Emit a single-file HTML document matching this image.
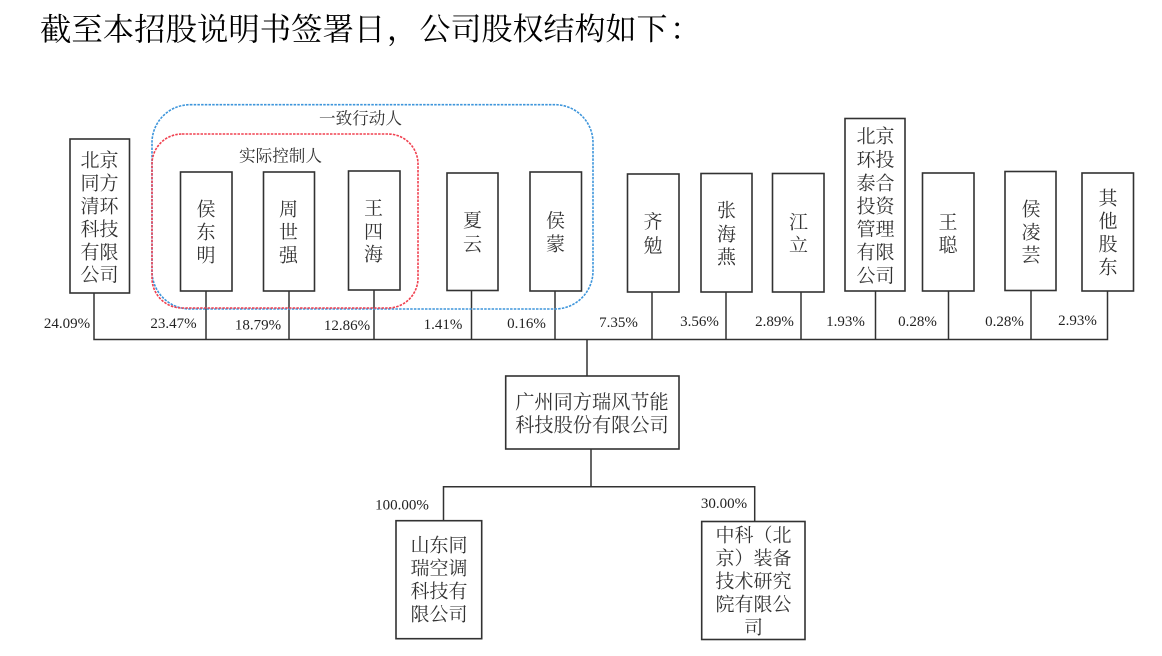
<!DOCTYPE html>
<html lang="zh-CN">
<head>
<meta charset="utf-8">
<title>股权结构</title>
<style>
html,body{margin:0;padding:0;background:#fff;width:1162px;height:656px;overflow:hidden}
svg{display:block}
text{font-family:"Liberation Serif","Noto Serif CJK SC",serif}
.t{font-size:19px;fill:#333;text-anchor:middle;dominant-baseline:central}
.m{font-size:19.2px;fill:#333;text-anchor:middle;dominant-baseline:central}
.l{font-size:16.6px;fill:#333;text-anchor:middle;dominant-baseline:central}
.p{font-size:15px;fill:#222;text-anchor:middle;dominant-baseline:central}
.b{fill:#fff;stroke:#333;stroke-width:1.6}
.c{fill:none;stroke:#333;stroke-width:1.5}
</style>
</head>
<body>
<svg width="1162" height="656" viewBox="0 0 1162 656" xmlns="http://www.w3.org/2000/svg">
<defs><filter id="s" filterUnits="userSpaceOnUse" x="0" y="60" width="1162" height="596"><feGaussianBlur stdDeviation="0.35"/></filter></defs>
<text x="40" y="29.5" font-size="31.4" fill="#000" dominant-baseline="central">截至本招股说明书签署日</text>
<text x="387" y="29.5" font-size="31" fill="#000" dominant-baseline="central">&#xFF0C;</text>
<text x="419.500" y="29.5" font-size="31" fill="#000" dominant-baseline="central">公司股权结构如下</text>
<text x="670" y="29.5" font-size="31" fill="#000" dominant-baseline="central">&#xFF1A;</text>
<g filter="url(#s)">
<path class="c" d="M94 293V339.5H1107.5V291M206 291V339.5M289 291V339.5M374 290V339.5M471.5 290V339.5M555 291V339.5M652 292V339.5M726 292V339.5M801 292V339.5M875.5 291V339.5M948.500 291V339.5M1031 290V339.5M587 339.5V376M591 449V486.700M443.500 520.700V486.700H754.700V521.500"/>
<rect class="b" x="70" y="139" width="59.500" height="154"/>
<rect class="b" x="180.500" y="172" width="51.500" height="119"/>
<rect class="b" x="263.500" y="172" width="51" height="119"/>
<rect class="b" x="348.500" y="171" width="51.500" height="119"/>
<rect class="b" x="447" y="173" width="51" height="117.500"/>
<rect class="b" x="530" y="172" width="51.500" height="119"/>
<rect class="b" x="627.500" y="174" width="51.500" height="118"/>
<rect class="b" x="701" y="173.500" width="51" height="118.500"/>
<rect class="b" x="772.500" y="173.500" width="51.500" height="118.500"/>
<rect class="b" x="845" y="118.500" width="60" height="172.500"/>
<rect class="b" x="922.500" y="173" width="51.500" height="118"/>
<rect class="b" x="1005" y="171.500" width="51" height="119"/>
<rect class="b" x="1082" y="173" width="51.500" height="118"/>
<rect class="b" x="505.700" y="376" width="173.300" height="73"/>
<rect class="b" x="396" y="520.700" width="85.700" height="118"/>
<rect class="b" x="701.700" y="521.500" width="103.300" height="118"/>
<rect x="152" y="104.700" width="441" height="204.300" rx="38" fill="none" stroke="#3d95db" stroke-width="1.600" stroke-dasharray="2.500 1.200"/>
<rect x="152" y="134" width="266" height="174" rx="30" fill="none" stroke="#f0404f" stroke-width="1.600" stroke-dasharray="2.500 1.200"/>
<text class="l" x="360.500" y="118.500">一致行动人</text>
<text class="l" x="280.500" y="156">实际控制人</text>
<text class="t" x="99.500" y="161">北京</text>
<text class="t" x="99.500" y="184">同方</text>
<text class="t" x="99.500" y="207">清环</text>
<text class="t" x="99.500" y="230">科技</text>
<text class="t" x="99.500" y="253">有限</text>
<text class="t" x="99.500" y="275.500">公司</text>
<text class="t" x="206" y="210">侯</text><text class="t" x="206" y="233">东</text><text class="t" x="206" y="256">明</text>
<text class="t" x="288.500" y="210">周</text><text class="t" x="288.500" y="233">世</text><text class="t" x="288.500" y="256">强</text>
<text class="t" x="373.500" y="209">王</text><text class="t" x="373.500" y="232.500">四</text><text class="t" x="373.500" y="255">海</text>
<text class="t" x="472.500" y="221">夏</text><text class="t" x="472.500" y="245">云</text>
<text class="t" x="555.500" y="221.500">侯</text><text class="t" x="555.500" y="245">蒙</text>
<text class="t" x="653" y="222.500">齐</text><text class="t" x="653" y="246.500">勉</text>
<text class="t" x="726.500" y="211">张</text><text class="t" x="726.500" y="235">海</text><text class="t" x="726.500" y="258">燕</text>
<text class="t" x="798.500" y="223">江</text><text class="t" x="798.500" y="246">立</text>
<text class="t" x="875.500" y="137">北京</text>
<text class="t" x="875.500" y="160.500">环投</text>
<text class="t" x="875.500" y="184">泰合</text>
<text class="t" x="875.500" y="207">投资</text>
<text class="t" x="875.500" y="230">管理</text>
<text class="t" x="875.500" y="253">有限</text>
<text class="t" x="875.500" y="276.500">公司</text>
<text class="t" x="948" y="223">王</text><text class="t" x="948" y="246">聪</text>
<text class="t" x="1031" y="210">侯</text><text class="t" x="1031" y="233">凌</text><text class="t" x="1031" y="256">芸</text>
<text class="t" x="1108" y="199">其</text><text class="t" x="1108" y="222">他</text><text class="t" x="1108" y="245">股</text><text class="t" x="1108" y="268">东</text>
<text class="m" x="592" y="403">广州同方瑞风节能</text>
<text class="m" x="592" y="426">科技股份有限公司</text>
<text class="t" x="439" y="546">山东同</text>
<text class="t" x="439" y="569">瑞空调</text>
<text class="t" x="439" y="592">科技有</text>
<text class="t" x="439" y="615">限公司</text>
<text class="t" x="753.500" y="536">中科&#xFF08;北</text>
<text class="t" x="753.500" y="559">京&#xFF09;装备</text>
<text class="t" x="753.500" y="582">技术研究</text>
<text class="t" x="753.500" y="605">院有限公</text>
<text class="t" x="753.500" y="628">司</text>
<text class="p" x="67" y="324">24.09%</text>
<text class="p" x="173.500" y="324">23.47%</text>
<text class="p" x="258" y="325.500">18.79%</text>
<text class="p" x="347" y="326">12.86%</text>
<text class="p" x="443" y="325">1.41%</text>
<text class="p" x="526.500" y="324">0.16%</text>
<text class="p" x="618.500" y="323">7.35%</text>
<text class="p" x="699.500" y="322">3.56%</text>
<text class="p" x="774.500" y="322">2.89%</text>
<text class="p" x="845.500" y="322">1.93%</text>
<text class="p" x="917.500" y="322">0.28%</text>
<text class="p" x="1004.500" y="322">0.28%</text>
<text class="p" x="1077.500" y="321">2.93%</text>
<text class="p" x="402" y="505.500">100.00%</text>
<text class="p" x="724" y="504">30.00%</text>
</g>
</svg>
</body>
</html>
